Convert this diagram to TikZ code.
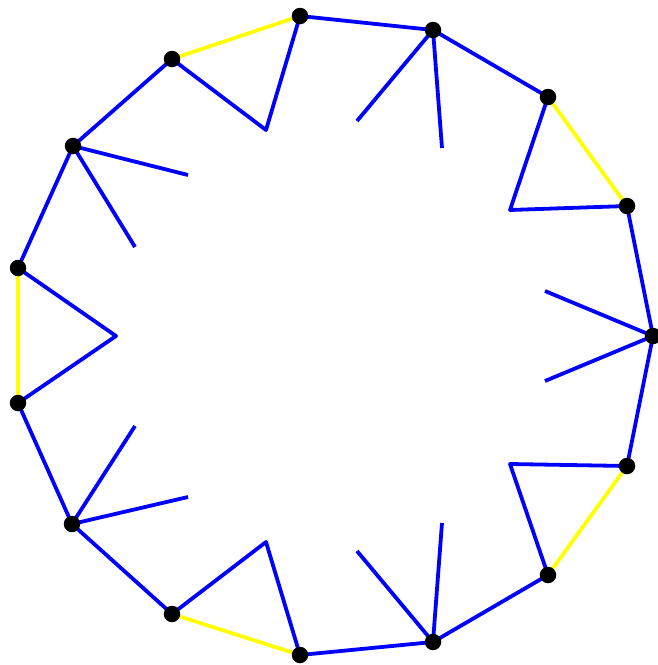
\documentclass[tikz,border=0pt]{standalone}
\begin{document}
\begin{tikzpicture}[x=1pt,y=-1pt,
  dot/.style={circle,fill=black,inner sep=0pt,minimum size=16.5pt},
  bl/.style={draw={rgb,255:red,0;green,0;blue,255},line width=3.8pt,line join=round},
  yl/.style={draw={rgb,255:red,255;green,255;blue,0},line width=3.8pt}]
\useasboundingbox (0,0) rectangle (658,665);
% vertices
\coordinate (v1) at (300,16);
\coordinate (v2) at (433,30);
\coordinate (v3) at (548,97);
\coordinate (v4) at (627,206);
\coordinate (v5) at (653,336);
\coordinate (v6) at (627,466);
\coordinate (v7) at (548,575);
\coordinate (v8) at (433,642);
\coordinate (v9) at (300,655);
\coordinate (v10) at (172,614);
\coordinate (v11) at (72,524);
\coordinate (v12) at (18,403);
\coordinate (v13) at (18,268);
\coordinate (v14) at (73,146);
\coordinate (v15) at (172,59);
% inner points
\coordinate (a1) at (266,130);
\coordinate (b2a) at (357,121);
\coordinate (b2b) at (442,148);
\coordinate (a3) at (510,210);
\coordinate (b5a) at (545,291);
\coordinate (b5b) at (545,381);
\coordinate (a6) at (510,464);
\coordinate (b8a) at (357,551);
\coordinate (b8b) at (442,523);
\coordinate (a9) at (266,542);
\coordinate (b11a) at (135,426);
\coordinate (b11b) at (188,497);
\coordinate (a12) at (116,336);
\coordinate (b14a) at (188,175);
\coordinate (b14b) at (135,247);
% yellow edges
\draw[yl] (v15) -- (v1);
\draw[yl] (v3) -- (v4);
\draw[yl] (v6) -- (v7);
\draw[yl] (v9) -- (v10);
\draw[yl] (v12) -- (v13);
% blue outline
\draw[bl] (v1) -- (v2) -- (v3);
\draw[bl] (v4) -- (v5) -- (v6);
\draw[bl] (v7) -- (v8) -- (v9);
\draw[bl] (v10) -- (v11) -- (v12);
\draw[bl] (v13) -- (v14) -- (v15);
% inner
\draw[bl] (v15) -- (a1) -- (v1);
\draw[bl] (v2) -- (b2a);
\draw[bl] (v2) -- (b2b);
\draw[bl] (v3) -- (a3) -- (v4);
\draw[bl] (v5) -- (b5a);
\draw[bl] (v5) -- (b5b);
\draw[bl] (v6) -- (a6) -- (v7);
\draw[bl] (v8) -- (b8a);
\draw[bl] (v8) -- (b8b);
\draw[bl] (v9) -- (a9) -- (v10);
\draw[bl] (v11) -- (b11a);
\draw[bl] (v11) -- (b11b);
\draw[bl] (v12) -- (a12) -- (v13);
\draw[bl] (v14) -- (b14a);
\draw[bl] (v14) -- (b14b);
% dots
\foreach \i in {1,...,15} \node[dot] (d\i) at (v\i) {};
\end{tikzpicture}
\end{document}
